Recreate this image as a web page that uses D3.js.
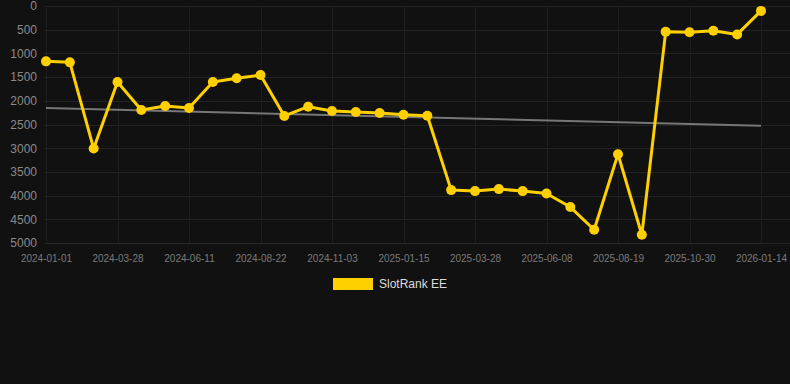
<!DOCTYPE html>
<html>
<head>
<meta charset="utf-8">
<script src="https://cdn.jsdelivr.net/npm/d3@7"></script>
<style>
  html, body { margin: 0; padding: 0; background: #111111; }
  svg { display: block; font-family: "Liberation Sans", Arial, sans-serif; }
</style>
</head>
<body>
<div id="chart"></div>
<script>
// dates of each snapshot (every third one is labelled on the axis)
const dates = [
  "2024-01-01", "2024-01-30", "2024-02-28", "2024-03-28", "2024-04-22", "2024-05-17",
  "2024-06-11", "2024-07-05", "2024-07-29", "2024-08-22", "2024-09-15", "2024-10-09",
  "2024-11-03", "2024-11-27", "2024-12-21", "2025-01-15", "2025-02-08", "2025-03-04",
  "2025-03-28", "2025-04-21", "2025-05-15", "2025-06-08", "2025-07-02", "2025-07-26",
  "2025-08-19", "2025-09-12", "2025-10-06", "2025-10-30", "2025-11-23", "2025-12-19",
  "2026-01-14"
];

// rank values (lower is better, axis is reversed)
const ranks = [
  1168, 1189, 3008, 1604, 2194, 2109, 2152, 1604, 1526, 1457,
  2320, 2124, 2215, 2236, 2257, 2293, 2314, 3884, 3905, 3863,
  3905, 3956, 4242, 4720, 3126, 4825, 545, 552, 524, 600, 103
];

const yTicks = [0, 500, 1000, 1500, 2000, 2500, 3000, 3500, 4000, 4500, 5000];
const seriesName = "SlotRank EE";

const width = 790;
const height = 384;
const plot = { left: 44, right: 790, top: 6, bottom: 243 };

const svg = d3.select("#chart")
  .append("svg")
  .attr("width", width)
  .attr("height", height);

svg.append("rect")
  .attr("width", width)
  .attr("height", height)
  .attr("fill", "#111111");

const x = d3.scalePoint()
  .domain(dates)
  .range([46, 761]);

const y = d3.scaleLinear()
  .domain([0, 5000])
  .range([plot.top, plot.bottom]);

// grid
svg.append("g")
  .selectAll("line")
  .data(yTicks)
  .join("line")
  .attr("x1", plot.left)
  .attr("x2", plot.right)
  .attr("y1", d => Math.round(y(d)) + 0.5)
  .attr("y2", d => Math.round(y(d)) + 0.5)
  .attr("stroke", "#232323")
  .attr("stroke-width", 1);

const labelled = dates.filter((d, i) => i % 3 === 0);

svg.append("g")
  .selectAll("line")
  .data(labelled)
  .join("line")
  .attr("x1", d => Math.round(x(d)) + 0.5)
  .attr("x2", d => Math.round(x(d)) + 0.5)
  .attr("y1", plot.top)
  .attr("y2", plot.bottom)
  .attr("stroke", "#1e1e1e")
  .attr("stroke-width", 1);

// y axis labels
const yAxis = svg.append("g")
  .attr("transform", "translate(37,0)")
  .call(d3.axisLeft(y).tickValues(yTicks).tickSize(0).tickPadding(0).tickFormat(d3.format("d")));
yAxis.select(".domain").remove();
yAxis.selectAll("text")
  .attr("fill", "#8a8a8a")
  .style("font-size", "12px");

// x axis labels
const xAxis = svg.append("g")
  .attr("transform", `translate(0,${plot.bottom})`)
  .call(d3.axisBottom(x).tickValues(labelled).tickSize(0).tickPadding(12));
xAxis.select(".domain").attr("stroke", "#2a2a2a");
xAxis.selectAll("text")
  .attr("fill", "#7a7a7a")
  .style("font-size", "10px");

// trend line (least squares over the series)
const n = ranks.length;
const mi = d3.mean(d3.range(n));
const mv = d3.mean(ranks);
const slope = d3.sum(ranks, (v, i) => (i - mi) * (v - mv)) / d3.sum(d3.range(n), i => (i - mi) * (i - mi));
const trend = i => mv + slope * (i - mi);

svg.append("line")
  .attr("x1", x(dates[0]))
  .attr("x2", x(dates[n - 1]))
  .attr("y1", y(trend(0)))
  .attr("y2", y(trend(n - 1)))
  .attr("stroke", "#777777")
  .attr("stroke-width", 2);

// series
const line = d3.line()
  .x((d, i) => x(dates[i]))
  .y(d => y(d));

svg.append("path")
  .datum(ranks)
  .attr("d", line)
  .attr("fill", "none")
  .attr("stroke", "#FFD000")
  .attr("stroke-width", 3)
  .attr("stroke-linejoin", "round");

svg.append("g")
  .selectAll("circle")
  .data(ranks)
  .join("circle")
  .attr("cx", (d, i) => x(dates[i]))
  .attr("cy", d => y(d))
  .attr("r", 5)
  .attr("fill", "#FFD000");

// legend
const legend = svg.append("g").attr("transform", "translate(333,278)");
legend.append("rect")
  .attr("width", 40)
  .attr("height", 12)
  .attr("fill", "#FFD000");
legend.append("text")
  .attr("x", 46)
  .attr("y", 6)
  .attr("dy", "0.35em")
  .attr("fill", "#dddddd")
  .style("font-size", "12px")
  .text(seriesName);
</script>
</body>
</html>
